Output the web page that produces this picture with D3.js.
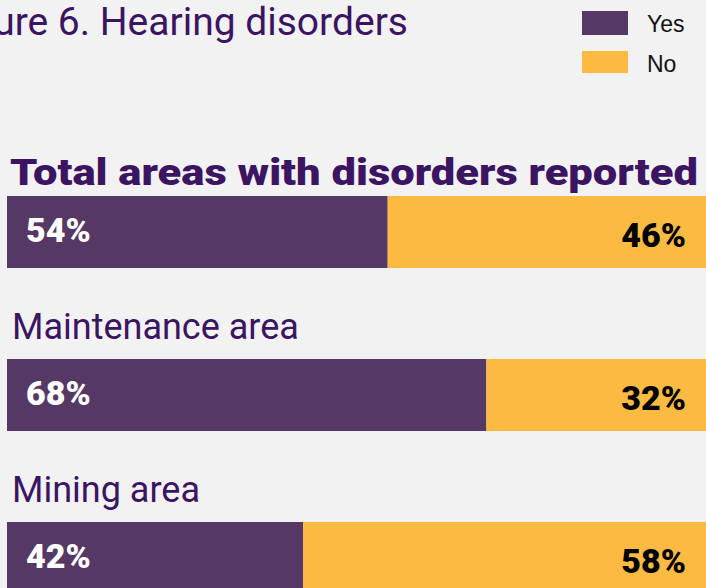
<!DOCTYPE html>
<html>
<head>
<meta charset="utf-8">
<script src="https://cdn.jsdelivr.net/npm/d3@7"></script>
<style>
  body { margin: 0; background: #f2f2f2; overflow: hidden; }
  svg { display: block; }
</style>
</head>
<body>
<svg id="chart" width="706" height="588"></svg>
<script>
const areas = ["Total areas with disorders reported", "Maintenance area", "Mining area"];
const yesValues = [54, 68, 42];
const noValues = [46, 32, 58];
const series = ["Yes", "No"];

const purple = "#553864";
const yellow = "#fbbb43";
const ink = "#3b1462";

const svg = d3.select("#chart");

const x = d3.scaleLinear().domain([0, 100]).range([7, 712]);
const y = d3.scaleLinear().domain([0, areas.length - 1]).range([196, 522]);
const barH = 72;

const color = d3.scaleOrdinal().domain(series).range([purple, yellow]);

// title (the reference crops its left edge too)
svg.append("text")
    .attr("x", 408)
    .attr("y", 35)
    .attr("text-anchor", "end")
    .attr("fill", ink)
    .style("font-family", "Roboto, sans-serif")
    .style("font-weight", 400)
    .style("font-size", "39px")
    .text("Figure 6. Hearing disorders");

// legend
const legend = svg.selectAll(".legend")
    .data(series)
    .enter()
    .append("g")
    .attr("class", "legend")
    .attr("transform", (d, i) => `translate(582,${11 + i * 40})`);

legend.append("rect")
    .attr("width", 46)
    .attr("height", (d, i) => i === 0 ? 24 : 22)
    .attr("fill", d => color(d));

legend.append("text")
    .attr("x", 65)
    .attr("y", 21)
    .attr("fill", "#111")
    .style("font-family", "'Liberation Sans', Arial, sans-serif")
    .style("font-size", "23px")
    .text(d => d);

const rows = areas.map((name, i) => ({name, yes: yesValues[i], no: noValues[i], i}));

const g = svg.selectAll(".row")
    .data(rows)
    .enter()
    .append("g")
    .attr("class", "row");

g.append("text")
    .attr("class", "area-label")
    .attr("x", d => d.i === 0 ? 10 : 12)
    .attr("y", d => y(d.i) - (d.i === 0 ? 11 : 20))
    .attr("fill", ink)
    .style("font-family", "Roboto, sans-serif")
    .style("font-weight", d => d.i === 0 ? 900 : 400)
    .style("font-size", d => d.i === 0 ? "37px" : "36px")
    .attr("textLength", d => d.i === 0 ? 688 : null)
    .attr("lengthAdjust", "spacingAndGlyphs")
    .text(d => d.name);

g.append("rect")
    .attr("x", x(0))
    .attr("y", d => y(d.i))
    .attr("width", d => x(d.yes) - x(0))
    .attr("height", barH)
    .attr("fill", purple);

g.append("rect")
    .attr("x", d => x(d.yes))
    .attr("y", d => y(d.i))
    .attr("width", d => x(100) - x(d.yes))
    .attr("height", barH)
    .attr("fill", yellow);

g.append("text")
    .attr("x", 26)
    .attr("y", d => y(d.i) + 46)
    .attr("fill", "#fff")
    .style("font-family", "Roboto, sans-serif")
    .style("font-weight", 900)
    .style("font-size", "34px")
    .text(d => d.yes + "%");

g.append("text")
    .attr("x", 686)
    .attr("y", d => y(d.i) + 51)
    .attr("text-anchor", "end")
    .attr("fill", "#000")
    .style("font-family", "Roboto, sans-serif")
    .style("font-weight", 900)
    .style("font-size", "34px")
    .text(d => d.no + "%");
</script>
</body>
</html>
